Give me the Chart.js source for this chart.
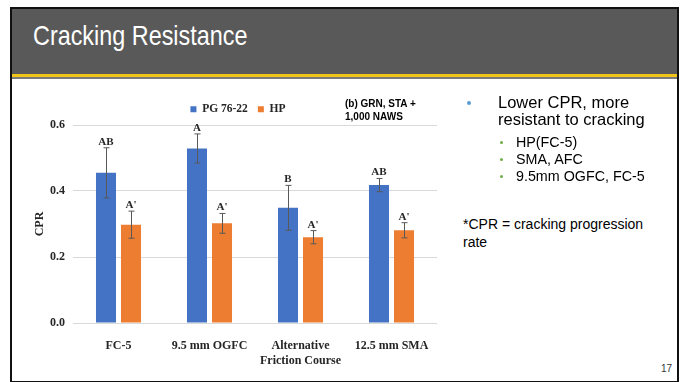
<!DOCTYPE html>
<html lang="en">
<head>
<meta charset="UTF-8">
<title>Cracking Resistance</title>
<script src="https://cdn.jsdelivr.net/npm/chart.js@4"></script>
<style>
  body { margin: 0; width: 686px; height: 382px; background: #fff; position: relative; overflow: hidden;
         font-family: "Liberation Sans", Arial, sans-serif; color: #000; }
  .frame { position: absolute; left: 10px; top: 7px; width: 669px; height: 376px; border: 2px solid #111; box-sizing: border-box; }
  .header { position: absolute; left: 12px; top: 9px; width: 665px; height: 65px; background: #595959; }
  .yellow { position: absolute; left: 12px; top: 74px; width: 665px; height: 3px; background: #f0c419; }
  .under { position: absolute; left: 12px; top: 77px; width: 665px; height: 2px; background: #7a7a7a; }
  .title { position: absolute; left: 33px; top: 20px; font-size: 28px; line-height: 32px; color: #fff;
           white-space: nowrap; transform: scaleX(0.835); transform-origin: left center; }
  .t { position: absolute; white-space: nowrap; }
  .main { font-size: 16.5px; line-height: 18px; }
  .sub { font-size: 14.3px; line-height: 17px; }
  .note { font-size: 14px; line-height: 18px; }
  .dot1 { position: absolute; left: 467px; top: 101px; width: 4px; height: 4px; border-radius: 50%; background: #5b9bd5; }
  .dot2 { position: absolute; width: 3px; height: 3px; border-radius: 50%; background: #70ad47; left: 500px; }
  .anno { position: absolute; left: 345px; font-size: 10px; font-weight: bold; line-height: 13px; white-space: nowrap; }
  .page { position: absolute; left: 661px; top: 363px; font-size: 10px; line-height: 12px; color: #333; }
  #chartBox { position: absolute; left: 0; top: 90px; width: 437px; height: 275px; }
</style>
</head>
<body>
<div class="frame"></div>
<div class="header"></div>
<div class="yellow"></div>
<div class="under"></div>
<div class="title">Cracking Resistance</div>

<div id="chartBox"><canvas id="cprChart"></canvas></div>
<div class="anno" style="top:96.5px">(b) GRN, STA +</div>
<div class="anno" style="top:109.5px">1,000 NAWS</div>

<div class="dot1"></div>
<div class="t main" style="left:498px; top:92.7px">Lower CPR, more</div>
<div class="t main" style="left:498px; top:110.3px">resistant to cracking</div>
<div class="dot2" style="top:141px"></div>
<div class="t sub" style="left:516px; top:134.2px">HP(FC-5)</div>
<div class="dot2" style="top:158px"></div>
<div class="t sub" style="left:516px; top:150.8px">SMA, AFC</div>
<div class="dot2" style="top:175px"></div>
<div class="t sub" style="left:516px; top:168.2px">9.5mm OGFC, FC-5</div>
<div class="t note" style="left:463px; top:215px">*CPR = cracking progression</div>
<div class="t note" style="left:463px; top:233.3px">rate</div>
<div class="page">17</div>

<script>
    // 値は図から読み取ったもの
    const categories = ['FC-5', '9.5 mm OGFC', ['Alternative', 'Friction Course'], '12.5 mm SMA'];
    const seriesNames = ['PG 76-22', 'HP'];
    const pgValues = [0.455, 0.529, 0.349, 0.418];
    const pgErrors = [0.076, 0.044, 0.068, 0.020];
    const pgLetters = ['AB', 'A', 'B', 'AB'];
    const hpValues = [0.298, 0.302, 0.260, 0.281];
    const hpErrors = [0.041, 0.030, 0.020, 0.023];
    const hpLetters = ["A'", "A'", "A'", "A'"];
    const yTicks = [0, 0.2, 0.4, 0.6];

    const serif = "'Liberation Serif', 'Times New Roman', serif";

    // エラーバーと文字ラベル
    const errorBars = {
        id: 'errorBars',
        afterDatasetsDraw(chart) {
            const ctx = chart.ctx;
            const y = chart.scales.y;
            ctx.save();
            chart.data.datasets.forEach((ds, di) => {
                const meta = chart.getDatasetMeta(di);
                meta.data.forEach((bar, i) => {
                    const hi = y.getPixelForValue(ds.data[i] + ds.errors[i]);
                    const lo = y.getPixelForValue(ds.data[i] - ds.errors[i]);
                    const x = Math.round(bar.x) + 0.5;
                    ctx.strokeStyle = '#595959';
                    ctx.lineWidth = 1;
                    ctx.beginPath();
                    ctx.moveTo(x, hi); ctx.lineTo(x, lo);
                    ctx.moveTo(x - 3, hi); ctx.lineTo(x + 3, hi);
                    ctx.moveTo(x - 3, lo); ctx.lineTo(x + 3, lo);
                    ctx.stroke();
                    ctx.fillStyle = '#262626';
                    ctx.font = 'bold 11px ' + serif;
                    ctx.textAlign = 'center';
                    ctx.textBaseline = 'alphabetic';
                    ctx.fillText(ds.letters[i], bar.x, hi - 3);
                });
            });
            ctx.restore();
        }
    };

    const ctx = document.getElementById('cprChart').getContext('2d');
    const cprChart = new Chart(ctx, {
        type: 'bar',
        data: {
            labels: categories,
            datasets: [{
                label: seriesNames[0],
                data: pgValues,
                errors: pgErrors,
                letters: pgLetters,
                backgroundColor: '#4472c4'
            }, {
                label: seriesNames[1],
                data: hpValues,
                errors: hpErrors,
                letters: hpLetters,
                backgroundColor: '#ed7d31'
            }]
        },
        options: {
            responsive: true,
            maintainAspectRatio: false,
            animation: false,
            devicePixelRatio: 1,
            categoryPercentage: 0.55,
            barPercentage: 0.8,
            layout: { padding: { left: 39, right: 0, top: 3.5, bottom: 0 } },
            plugins: {
                legend: {
                    position: 'top',
                    labels: {
                        boxWidth: 6,
                        boxHeight: 6,
                        padding: 10,
                        color: '#262626',
                        font: { family: serif, size: 11.5, weight: 'bold' }
                    }
                },
                tooltip: { enabled: false }
            },
            scales: {
                x: {
                    grid: { display: false },
                    border: { display: false },
                    ticks: {
                        padding: 8,
                        color: '#262626',
                        font: { family: serif, size: 12, weight: 'bold', lineHeight: 1.2 }
                    },
                    afterFit: (scale) => { scale.height = 42; }
                },
                y: {
                    min: 0,
                    max: 0.6,
                    grid: { color: '#d9d9d9', drawTicks: false },
                    border: { display: false },
                    afterBuildTicks: (scale) => { scale.ticks = yTicks.map(v => ({ value: v })); },
                    ticks: {
                        padding: 8,
                        color: '#262626',
                        font: { family: serif, size: 12, weight: 'bold' },
                        callback: (v) => Number(v).toFixed(1)
                    },
                    title: {
                        display: true,
                        text: 'CPR',
                        color: '#262626',
                        padding: { top: -5, bottom: 0 },
                        font: { family: serif, size: 12, weight: 'bold', lineHeight: 1 }
                    },
                    afterFit: (scale) => { scale.width = 34; }
                }
            }
        },
        plugins: [errorBars]
    });
</script>
</body>
</html>
